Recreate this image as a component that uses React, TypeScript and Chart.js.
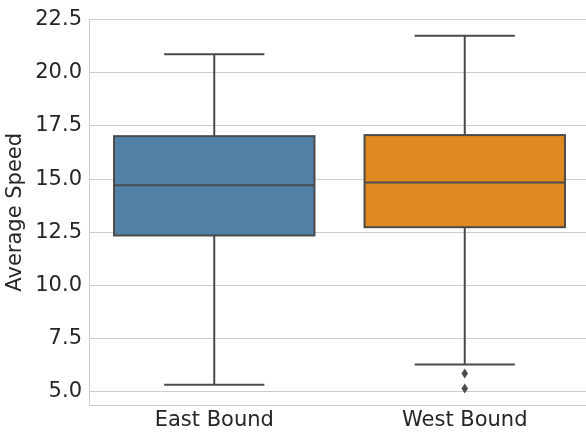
import React, { useEffect, useRef } from "react";
import { Chart, registerables } from "chart.js";

Chart.register(...registerables);

const categories = ["East Bound", "West Bound"];
const whiskerLow = [5.33, 6.28];
const q1Values = [12.35, 12.74];
const medianValues = [14.71, 14.84];
const q3Values = [17.02, 17.07];
const whiskerHigh = [20.87, 21.74];
const outliers: number[][] = [[], [5.86, 5.15]];
const yTicks = [5.0, 7.5, 10.0, 12.5, 15.0, 17.5, 20.0, 22.5];
const boxColors = ["#5181a6", "#df8920"];
const lineColor = "#4b4b4b";
const textColor = "#262626";
const gridColor = "#cccccc";
const FONT = "'DejaVu Sans', sans-serif";

const boxPlugin = {
  id: "boxDecor",
  afterDatasetsDraw(chart: any) {
    const ctx = chart.ctx;
    const y = chart.scales.y;
    const meta = chart.getDatasetMeta(0);
    ctx.save();
    ctx.strokeStyle = lineColor;
    ctx.lineWidth = 2;
    ctx.lineCap = "butt";
    meta.data.forEach((bar: any, i: number) => {
      const cx = bar.x;
      const half = bar.width / 2;
      const left = cx - half;
      const right = cx + half;
      const yq1 = y.getPixelForValue(q1Values[i]);
      const yq3 = y.getPixelForValue(q3Values[i]);
      const ymed = y.getPixelForValue(medianValues[i]);
      const ylo = y.getPixelForValue(whiskerLow[i]);
      const yhi = y.getPixelForValue(whiskerHigh[i]);
      ctx.strokeRect(left, yq3, right - left, yq1 - yq3);
      ctx.beginPath();
      ctx.moveTo(left, ymed);
      ctx.lineTo(right, ymed);
      ctx.moveTo(cx, yq3);
      ctx.lineTo(cx, yhi);
      ctx.moveTo(cx, yq1);
      ctx.lineTo(cx, ylo);
      const capHalf = half / 2;
      ctx.moveTo(cx - capHalf, yhi);
      ctx.lineTo(cx + capHalf, yhi);
      ctx.moveTo(cx - capHalf, ylo);
      ctx.lineTo(cx + capHalf, ylo);
      ctx.stroke();
      ctx.fillStyle = lineColor;
      outliers[i].forEach((v) => {
        const py = y.getPixelForValue(v);
        ctx.beginPath();
        ctx.moveTo(cx, py - 5);
        ctx.lineTo(cx + 3.3, py);
        ctx.lineTo(cx, py + 5);
        ctx.lineTo(cx - 3.3, py);
        ctx.closePath();
        ctx.fill();
      });
    });
    ctx.restore();
  },
};

export default function App() {
  const canvasRef = useRef<HTMLCanvasElement>(null);

  useEffect(() => {
    if (!canvasRef.current) return;
    const chart = new Chart(canvasRef.current, {
      type: "bar",
      data: {
        labels: categories,
        datasets: [
          {
            data: categories.map((_, i) => [q1Values[i], q3Values[i]]) as any,
            backgroundColor: boxColors,
            borderWidth: 0,
            categoryPercentage: 0.8,
            barPercentage: 1,
          },
        ],
      },
      options: {
        animation: false,
        responsive: true,
        maintainAspectRatio: false,
        layout: { padding: { top: 17, left: 0, right: 0, bottom: 0 } },
        plugins: {
          legend: { display: false },
          tooltip: { enabled: false },
        },
        scales: {
          x: {
            type: "category",
            offset: true,
            grid: { display: false, drawTicks: false },
            border: { display: true, color: gridColor, width: 1 },
            ticks: {
              color: textColor,
              font: { family: FONT, size: 21 },
              padding: 3,
              maxRotation: 0,
            },
            afterFit(scale: any) {
              scale.height = 31;
            },
          },
          y: {
            type: "linear",
            min: 4.38,
            max: 22.5,
            grid: { color: gridColor, lineWidth: 1, drawTicks: false },
            border: { display: true, color: gridColor, width: 1 },
            ticks: {
              color: textColor,
              font: { family: FONT, size: 21 },
              padding: 7,
              callback: (v: any) => Number(v).toFixed(1),
            },
            afterBuildTicks(scale: any) {
              scale.ticks = yTicks.map((v) => ({ value: v }));
            },
            title: {
              display: true,
              text: "Average Speed",
              color: textColor,
              font: { family: FONT, size: 21 },
              padding: { top: 3, bottom: 0 },
            },
            afterFit(scale: any) {
              scale.width = 89;
            },
          },
        },
      },
      plugins: [boxPlugin],
    });
    return () => chart.destroy();
  }, []);

  return (
    <div style={{ position: "absolute", left: 0, top: 0, width: 586, height: 436, overflow: "hidden", background: "#ffffff" }}>
      <div style={{ position: "relative", width: 590, height: 436 }}>
        <canvas ref={canvasRef} />
      </div>
    </div>
  );
}
